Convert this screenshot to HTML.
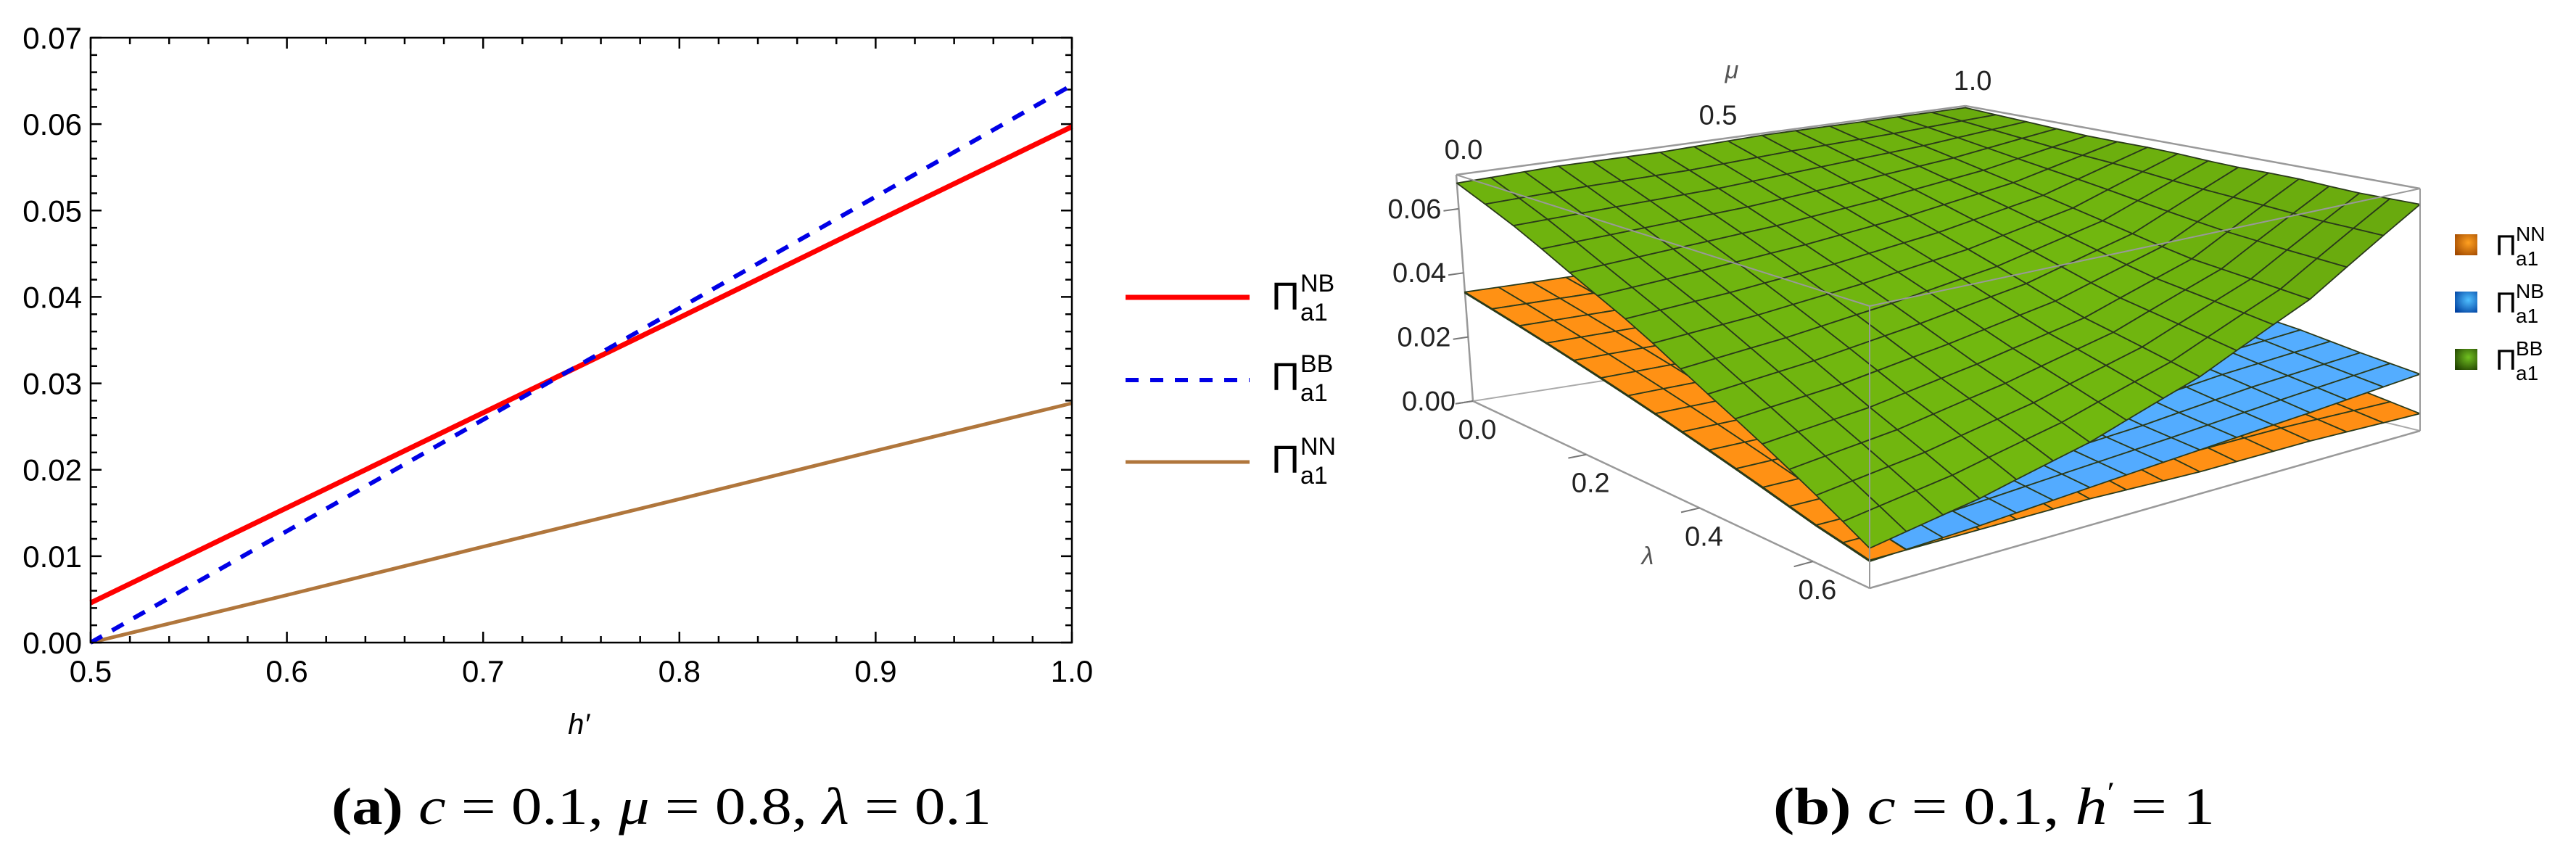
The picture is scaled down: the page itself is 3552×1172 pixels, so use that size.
<!DOCTYPE html>
<html><head><meta charset="utf-8"><style>
html,body{margin:0;padding:0;background:#fff;}
svg{display:block;}
text{font-family:"Liberation Sans",sans-serif;}
.serif{font-family:"Liberation Serif",serif;}
</style></head><body>
<svg id="fig" width="3552" height="1172" viewBox="0 0 3552 1172" xmlns="http://www.w3.org/2000/svg">
<g id="left"></g>
<g id="right"></g>
<text class="serif" x="457" y="1136" font-size="72" textLength="910" lengthAdjust="spacingAndGlyphs"><tspan font-weight="bold">(a)</tspan> <tspan font-style="italic">c</tspan> = 0.1, <tspan font-style="italic">μ</tspan> = 0.8, <tspan font-style="italic">λ</tspan> = 0.1</text>
<text class="serif" x="2445" y="1136" font-size="72" textLength="609" lengthAdjust="spacingAndGlyphs"><tspan font-weight="bold">(b)</tspan> <tspan font-style="italic">c</tspan> = 0.1, <tspan font-style="italic">h</tspan><tspan dy="-30" font-size="40">′</tspan><tspan dy="30"> = 1</tspan></text>
</svg>
<script>
// ---------- Panel (a) data ----------
const hValues = [0.5, 0.6, 0.7, 0.8, 0.9, 1.0];
const seriesNB = [0.0046, 0.0156, 0.0266, 0.0376, 0.0487, 0.0597];
const seriesBB = [0.0000, 0.0129, 0.0258, 0.0387, 0.0516, 0.0645];
const seriesNN = [0.0000, 0.0055, 0.0111, 0.0166, 0.0222, 0.0277];
const xTickLabels = ["0.5","0.6","0.7","0.8","0.9","1.0"];
const yTickLabels = ["0.00","0.01","0.02","0.03","0.04","0.05","0.06","0.07"];

// ---------- Panel (b) data ----------
const lambdaSamples = [0,0.1,0.2,0.3,0.4,0.5,0.6,0.7];
const muSamples = [0,0.2,0.4,0.6,0.8,1.0];
const surfBB = [
 [0.068,0.069,0.069,0.070,0.070,0.070],
 [0.060,0.061,0.062,0.064,0.066,0.069],
 [0.051,0.053,0.055,0.058,0.062,0.068],
 [0.043,0.045,0.048,0.052,0.058,0.068],
 [0.034,0.037,0.041,0.046,0.054,0.067],
 [0.026,0.029,0.034,0.040,0.050,0.067],
 [0.018,0.022,0.028,0.036,0.048,0.066],
 [0.010,0.015,0.022,0.032,0.046,0.066]];
const surfNB = [
 [0.0337,0.032,0.032,0.032,0.033,0.033],
 [0.0297,0.028,0.028,0.029,0.030,0.031],
 [0.0257,0.024,0.024,0.025,0.027,0.029],
 [0.0217,0.020,0.020,0.022,0.024,0.026],
 [0.0177,0.017,0.017,0.019,0.022,0.024],
 [0.0137,0.013,0.015,0.017,0.020,0.022],
 [0.0097,0.010,0.012,0.014,0.017,0.019],
 [0.0067,0.008,0.010,0.012,0.014,0.0165]];
const surfNN = [
 [0.034,0.034,0.034,0.034,0.034,0.034],
 [0.030,0.030,0.030,0.030,0.029,0.029],
 [0.026,0.026,0.026,0.025,0.025,0.025],
 [0.022,0.022,0.022,0.021,0.021,0.020],
 [0.018,0.018,0.018,0.017,0.017,0.016],
 [0.014,0.014,0.014,0.013,0.013,0.012],
 [0.010,0.010,0.010,0.009,0.009,0.008],
 [0.007,0.007,0.007,0.006,0.006,0.005]];
const zTickLabels = ["0.00","0.02","0.04","0.06"];
const zTickValues = [0,0.02,0.04,0.06];
const lambdaTickLabels = ["0.0","0.2","0.4","0.6"];
const lambdaTickValues = [0,0.2,0.4,0.6];
const muTickLabels = ["0.0","0.5","1.0"];
const muTickValues = [0,0.5,1.0];

const NS="http://www.w3.org/2000/svg";
function mk(tag, attrs, parent, txt){const e=document.createElementNS(NS,tag);for(const k in attrs)e.setAttribute(k,attrs[k]);if(txt!==undefined)e.textContent=txt;parent.appendChild(e);return e;}

// ---------- Panel (a) ----------
const L=document.getElementById('left');
const X0=125,X1=1478,Y0=886,Y1=52;
const xs=v=>X0+(v-0.5)/0.5*(X1-X0);
const ys=v=>Y0-v/0.07*(Y0-Y1);
let tk='';
for(let i=0;i<=25;i++){const x=X0+i*(X1-X0)/25;const len=(i%5==0)?15:9;tk+=`M${x},${Y0}v${-len}M${x},${Y1}v${len}`;}
for(let i=0;i<=35;i++){const y=Y0-i*(Y0-Y1)/35;const len=(i%5==0)?15:9;tk+=`M${X0},${y}h${len}M${X1},${y}h${-len}`;}
let p=mk('path',{d:tk,stroke:'#000','stroke-width':2.5,fill:'none'},L);


function drawLine(arr,color,w,dash,name){
  let d='';arr.forEach((v,i)=>{d+=(i?'L':'M')+xs(hValues[i]).toFixed(1)+','+ys(v).toFixed(1);});
  const a={d:d,stroke:color,'stroke-width':w,fill:'none','stroke-linecap':'butt'};if(dash)a['stroke-dasharray']=dash;
  const e=mk('path',a,L);
  
  
}
drawLine(seriesNN,'#b0763c',5,null,'line-nn');
drawLine(seriesNB,'#ff0000',7,null,'line-nb');
drawLine(seriesBB,'#0000e6',6,'18 16','line-bb');
let fr=mk('rect',{x:X0,y:Y1,width:X1-X0,height:Y0-Y1,fill:'none',stroke:'#000','stroke-width':2.5},L);


xTickLabels.forEach((t,i)=>{const e=mk('text',{x:xs(0.5+0.1*i),y:940,'font-size':42,'text-anchor':'middle'},L,t);
 
 });
yTickLabels.forEach((t,i)=>{const e=mk('text',{x:113,y:ys(0.01*i)+15,'font-size':42,'text-anchor':'end'},L,t);
 
 });
let xt=mk('text',{x:798,y:1012,'font-size':40,'font-style':'italic','text-anchor':'middle'},L,'h′');


const legA=[['#ff0000',7,null,'NB',410,427],['#0000e6',6,'18 16','BB',524,538],['#b0763c',5,null,'NN',637,652]];
legA.forEach(r=>{
  const g=mk('g',{},L);
  
  
  const a={x1:1552,x2:1723,y1:r[4],y2:r[4],stroke:r[0],'stroke-width':r[1]};if(r[2])a['stroke-dasharray']=r[2];
  mk('line',a,g);
  mk('text',{x:1753,y:r[5],'font-size':54},g,'Π');
  mk('text',{x:1793,y:r[5]-25,'font-size':34},g,r[3]);
  mk('text',{x:1793,y:r[5]+15,'font-size':34},g,'a1');
});

// ---------- Panel (b) ----------
const R=document.getElementById('right');
const LMAX=0.7,TMAX=0.0706;
const C={
 '000':[2031,553],'100':[2578,811],'110':[3337,594],'010':[2722,445],
 '001':[2008,241],'101':[2578,422],'111':[3337,260],'011':[2710,146]};
function proj(l,m,z){
  const a=l/LMAX,b=m,c=z/TMAX;let x=0,y=0;
  for(const k in C){const wa=k[0]=='1'?a:1-a,wb=k[1]=='1'?b:1-b,wc=k[2]=='1'?c:1-c;const w=wa*wb*wc;x+=w*C[k][0];y+=w*C[k][1];}
  return [x,y];
}
function sample(grid,l,m){
  let i=Math.min(lambdaSamples.length-2,Math.floor(l/0.1+1e-9));let j=Math.min(muSamples.length-2,Math.floor(m/0.2+1e-9));
  const u=(l-lambdaSamples[i])/0.1,v=(m-muSamples[j])/0.2;
  return grid[i][j]*(1-u)*(1-v)+grid[i+1][j]*u*(1-v)+grid[i][j+1]*(1-u)*v+grid[i+1][j+1]*u*v;
}
function seg(a,b,col,w,name){const p1=proj(...a),p2=proj(...b);const e=mk('line',{x1:p1[0],y1:p1[1],x2:p2[0],y2:p2[1],stroke:col,'stroke-width':w},R);
 
 }
seg([0,1,0],[0,1,TMAX],'#aaa',2,'box-edge');
seg([0,0,0],[0,1,0],'#aaa',2,'box-edge');
seg([0,1,0],[LMAX,1,0],'#aaa',2,'box-edge');
seg([0,0,0],[0,0,TMAX],'#999',2.5,'box-edge');
seg([0,0,0],[LMAX,0,0],'#999',2.5,'box-edge');
seg([LMAX,0,0],[LMAX,1,0],'#999',2.5,'box-edge');
seg([0,1,TMAX],[LMAX,1,TMAX],'#999',2.5,'box-edge');
seg([0,0,TMAX],[0,1,TMAX],'#999',2.5,'box-edge');
const N=15;
const allCells=[];
function buildSurface(grid,base,name){
  for(let i=0;i<N;i++)for(let j=0;j<N;j++){
    const l0=i/N*LMAX,l1=(i+1)/N*LMAX,m0=j/N,m1=(j+1)/N;
    const z00=sample(grid,l0,m0),z10=sample(grid,l1,m0),z11=sample(grid,l1,m1),z01=sample(grid,l0,m1);
    const dzl=((z10+z11)-(z00+z01))/2/TMAX*N, dzm=((z01+z11)-(z00+z10))/2/TMAX*N;
    let nx=-dzl,ny=-dzm,nz=1;const nn=Math.hypot(nx,ny,nz);nx/=nn;ny/=nn;nz/=nn;
    const lx=0.55,ly=-0.45,lz=0.7;const ln=Math.hypot(lx,ly,lz);
    const d=Math.max(0,(nx*lx+ny*ly+nz*lz)/ln);
    const s=0.7+0.4*d;
    const col=`rgb(${Math.min(255,base[0]*s)|0},${Math.min(255,base[1]*s)|0},${Math.min(255,base[2]*s)|0})`;
    const pts=[proj(l0,m0,z00),proj(l1,m0,z10),proj(l1,m1,z11),proj(l0,m1,z01)];
    allCells.push({key:(i+0.5)/N-(j+0.5)/N,z:(z00+z10+z11+z01)/4,pts,col,name});
  }
}
buildSurface(surfNN,[255,140,20],'surface-nn-cell');
buildSurface(surfNB,[80,165,250],'surface-nb-cell');
buildSurface(surfBB,[104,168,14],'surface-bb-cell');
allCells.sort((a,b)=>(Math.abs(a.key-b.key)<1e-9)?(a.z-b.z):(a.key-b.key));
const gS=mk('g',{},R);


allCells.filter(c=>c.name!=='surface-bb-cell').forEach(c=>{
  const e=mk('polygon',{points:c.pts.map(q=>q[0].toFixed(1)+','+q[1].toFixed(1)).join(' '),fill:c.col,stroke:'#2a3a1a','stroke-width':1.8,'stroke-linejoin':'round'},gS);
  
  
});
allCells.filter(c=>c.name==='surface-bb-cell').forEach(c=>{
  const e=mk('polygon',{points:c.pts.map(q=>q[0].toFixed(1)+','+q[1].toFixed(1)).join(' '),fill:c.col,stroke:'#2a3a1a','stroke-width':1.8,'stroke-linejoin':'round'},gS);
  
  
});
seg([0,0,TMAX],[LMAX,0,TMAX],'#999',2,'box-edge');
seg([LMAX,0,TMAX],[LMAX,1,TMAX],'#999',2,'box-edge');
seg([LMAX,0,0],[LMAX,0,TMAX],'#999',2,'box-edge');
seg([LMAX,1,0],[LMAX,1,TMAX],'#999',2,'box-edge');
zTickValues.forEach((v,i)=>{const p=proj(0,0,v);
  seg([0,0,v],[0,-0.03,v],'#777',2,'z-tick');
  const e=mk('text',{x:p[0]-24,y:p[1]+13,'font-size':38,'text-anchor':'end',fill:'#222'},R,zTickLabels[i]);
  
  });
lambdaTickValues.forEach((v,i)=>{const p=proj(v,0,0);
  seg([v,0,0],[v,-0.035,0],'#777',2,'lambda-tick');
  const e=mk('text',{x:p[0]+6,y:p[1]+52,'font-size':38,'text-anchor':'middle',fill:'#222'},R,lambdaTickLabels[i]);
  
  });
muTickValues.forEach((v,i)=>{const p=proj(0,v,TMAX);
  const e=mk('text',{x:p[0]+10,y:p[1]-22,'font-size':38,'text-anchor':'middle',fill:'#222'},R,muTickLabels[i]);
  
  });
let ml=mk('text',{x:2388,y:108,'font-size':34,'font-style':'italic','text-anchor':'middle',fill:'#555'},R,'μ');


let ll=mk('text',{x:2272,y:778,'font-size':34,'font-style':'italic','text-anchor':'middle',fill:'#555'},R,'λ');


const legB=[['#ffa020','#a04800','NN',352],['#50c0ff','#0040a0','NB',431],['#70c020','#204000','BB',510]];
legB.forEach((r,k)=>{
  const g=mk('g',{},R);
  
  
  const gid='lg'+k;
  const defs=mk('defs',{},g);const rg=mk('radialGradient',{id:gid,cx:'0.6',cy:'0.4',r:'0.75'},defs);
  mk('stop',{offset:'0','stop-color':r[0]},rg);mk('stop',{offset:'1','stop-color':r[1]},rg);
  mk('rect',{x:3385,y:r[3]-29,width:31,height:29,fill:`url(#${gid})`},g);
  mk('text',{x:3441,y:r[3],'font-size':40},g,'Π');
  mk('text',{x:3469,y:r[3]-20,'font-size':28},g,r[2]);
  mk('text',{x:3469,y:r[3]+14,'font-size':28},g,'a1');
});
</script>
</body></html>
